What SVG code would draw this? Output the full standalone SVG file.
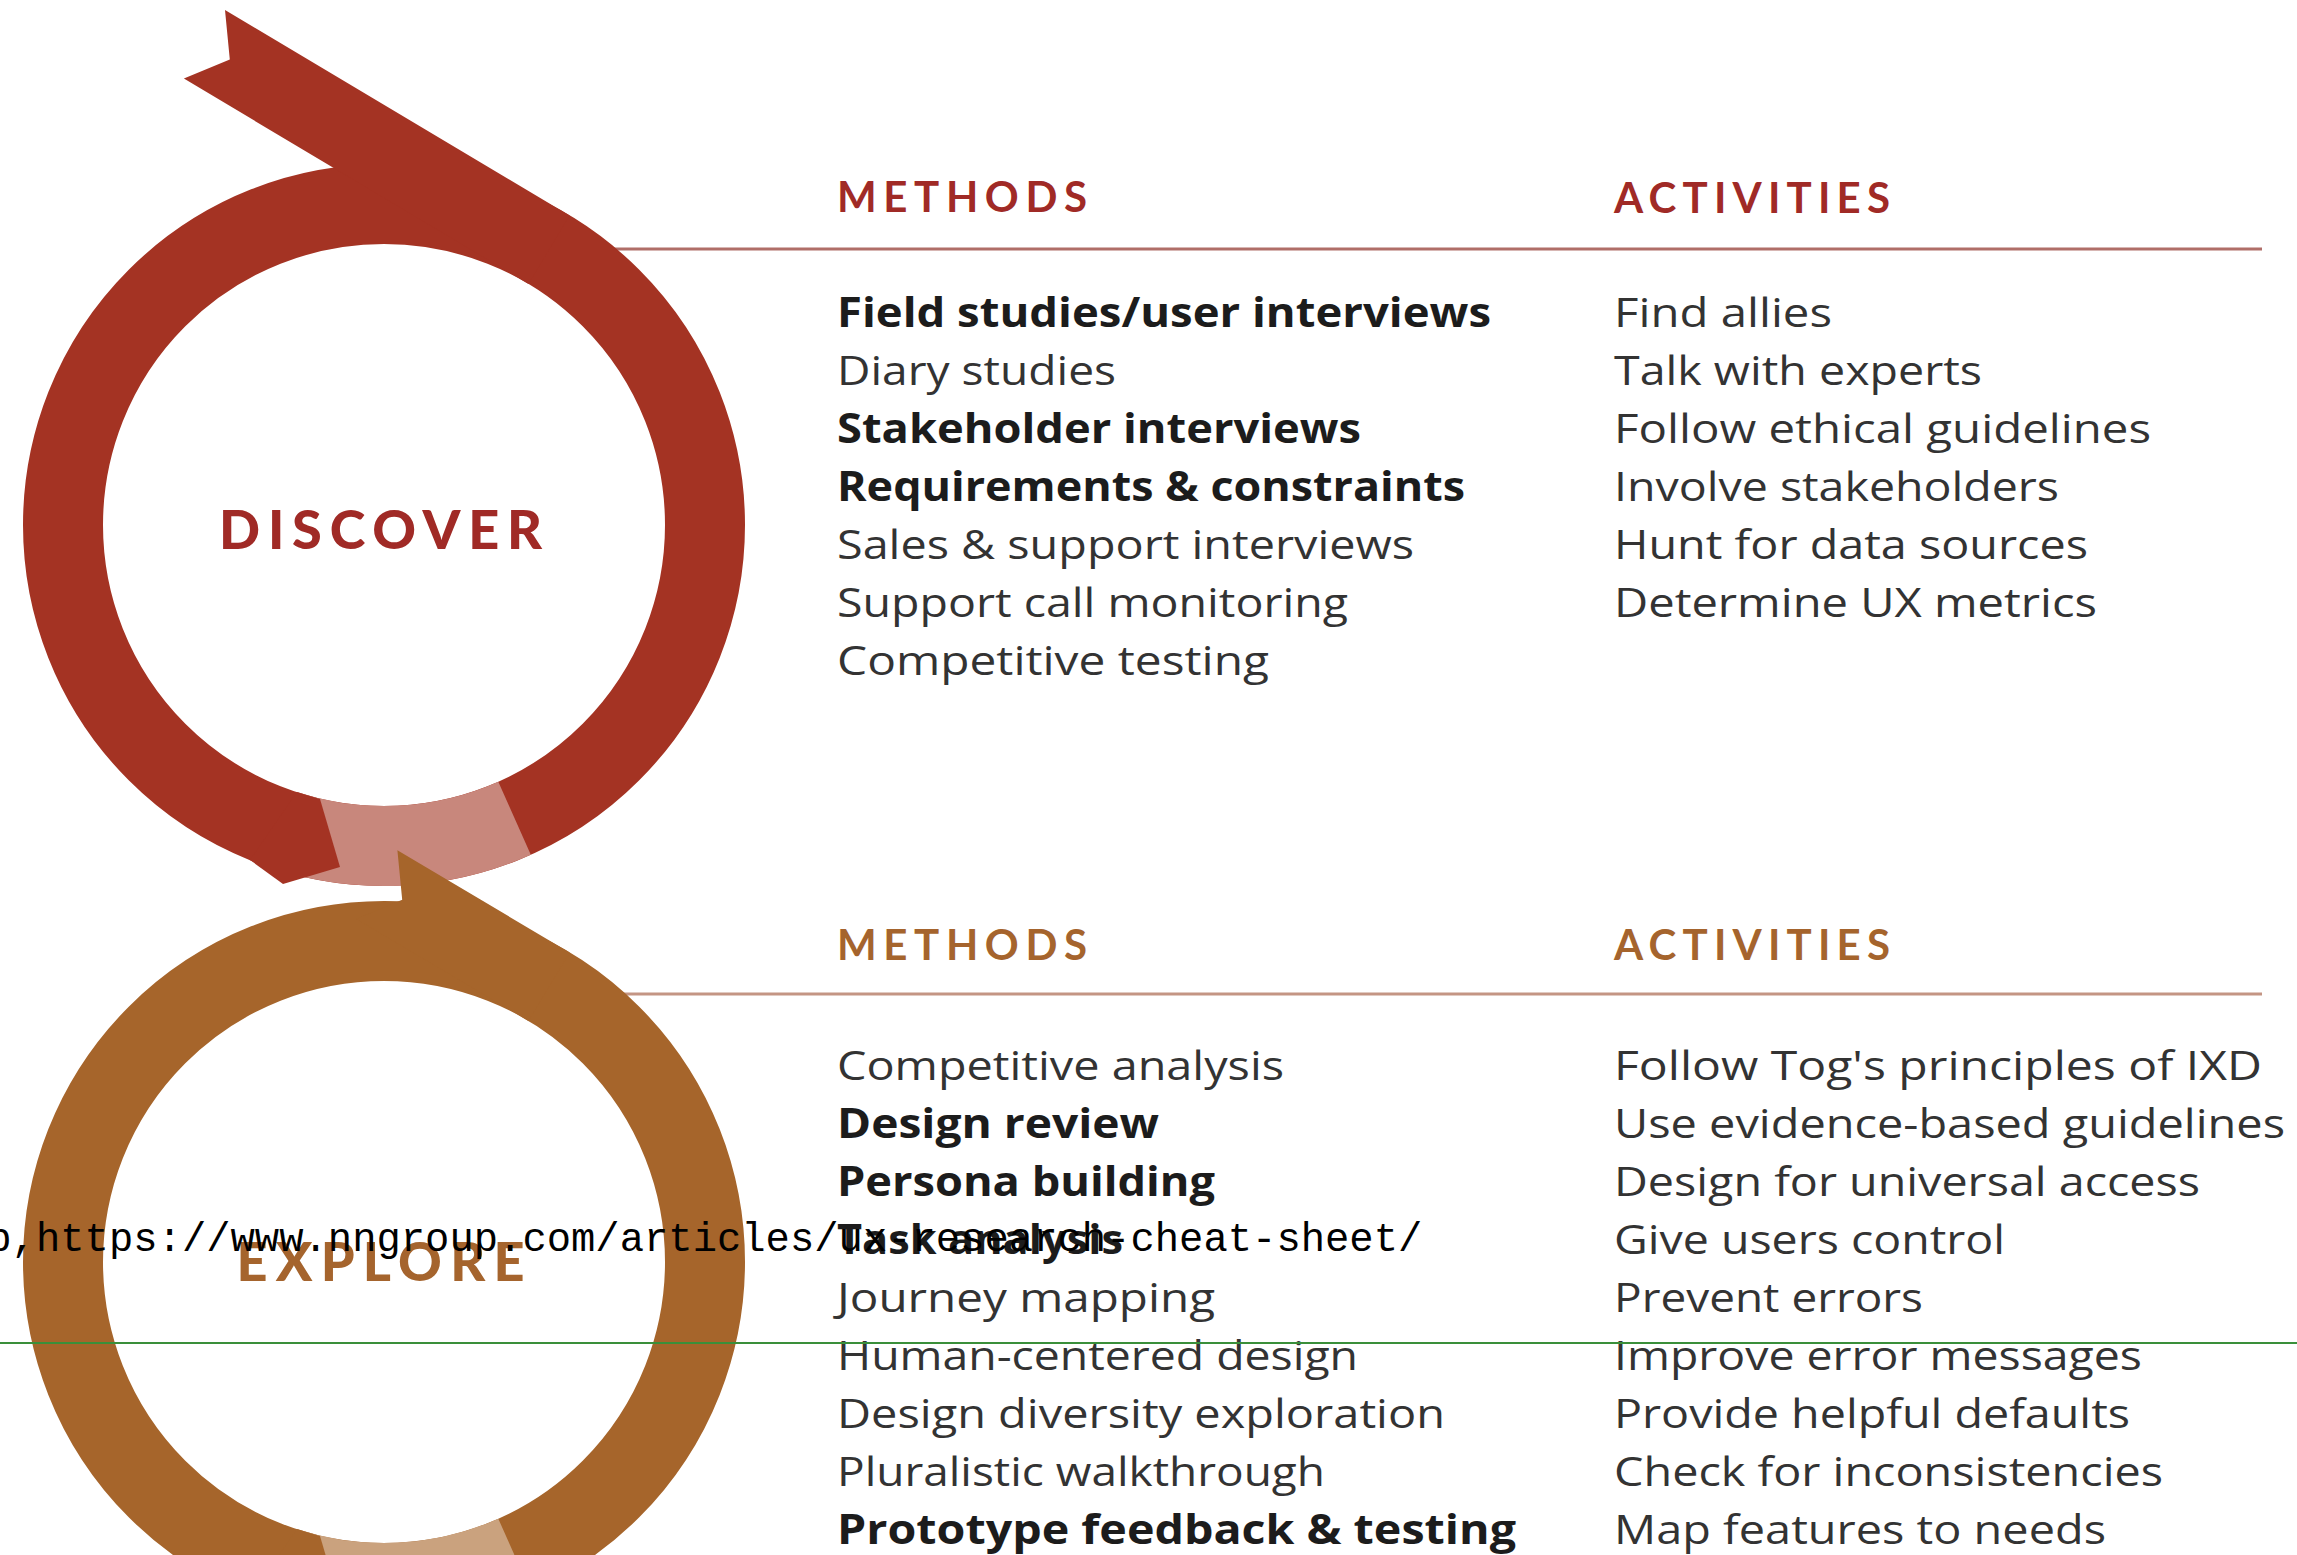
<svg xmlns="http://www.w3.org/2000/svg" width="2297" height="1555" viewBox="0 0 2297 1555">
  <style>
    .ring-d { fill: none; stroke: #a43323; stroke-width: 80; }
    .ring-e { fill: none; stroke: #a6652b; stroke-width: 80; }
    .fill-d { fill: #a43323; }
    .fill-e { fill: #a6652b; }
    .light-d { fill: #c8877c; }
    .light-e { fill: #caa27e; }
    .rule-d { stroke: #b06e68; stroke-width: 3; }
    .rule-e { stroke: #c49584; stroke-width: 3; }
    .hd { font-family: Lato, 'Open Sans', sans-serif; font-weight: 700; font-size: 42px; }
    .hd-d { fill: #a02a26; }
    .hd-e { fill: #a5642d; }
    .title { font-family: Lato, 'Open Sans', sans-serif; font-weight: 900; font-size: 54px; text-anchor: middle; }
    .it { font-family: 'Open Sans', Lato, sans-serif; font-size: 41px; fill: #333333; }
    .b { font-weight: 700; fill: #1c1c1c; }
    .url { font-family: 'Liberation Mono', 'DejaVu Sans Mono', monospace; font-size: 40.5px; fill: #000; }
  </style>

  <rect width="2297" height="1555" fill="#ffffff"/>

  <!-- header rules, drawn first so the rings sit over their left ends -->
  <g id="rules">
    <line class="rule-d" x1="600" y1="249" x2="2262" y2="249"/>
    <line class="rule-e" x1="600" y1="994" x2="2262" y2="994"/>
  </g>

  <!-- DISCOVER ribbon ring: annulus, light crossing section, cut end, notched tail -->
  <g id="discover">
    <circle class="ring-d" cx="384" cy="525" r="321"/>
    <path class="light-d" d="M 498.3 781.7 A 281 281 0 0 1 297.2 792.2 L 272.4 868.3 A 361 361 0 0 0 530.8 854.8 Z"/>
    <polygon class="fill-d" points="297,792 320,799 340,867 283,884 250,860"/>
    <polygon class="fill-d" points="225,10 569.6,215.4 528.5,284 183.9,78.6 229.8,59.5"/>
    <text class="title hd-d" x="382" y="549" textLength="326" letter-spacing="3">DISCOVER</text>
  </g>

  <!-- EXPLORE ribbon ring -->
  <g id="explore">
    <circle class="ring-e" cx="384" cy="1262" r="321"/>
    <path class="light-e" d="M 498.3 1518.7 A 281 281 0 0 1 297.2 1529.2 L 272.4 1605.3 A 361 361 0 0 0 530.8 1591.8 Z"/>
    <polygon class="fill-e" points="297,1529 320,1536 340,1604 283,1621 250,1597"/>
    <polygon class="fill-e" points="397.4,850.3 569.6,952.4 528.5,1021 356.3,919 402.2,899.8"/>
    <text class="title hd-e" x="382" y="1281" textLength="291" letter-spacing="3">EXPLORE</text>
  </g>

  <!-- Discover: methods -->
  <g id="discover-methods">
    <text class="hd hd-d" x="837" y="212" textLength="250">METHODS</text>
    <text class="it b" x="837" y="327" textLength="654" lengthAdjust="spacingAndGlyphs">Field studies/user interviews</text>
    <text class="it" x="837" y="385" textLength="279" lengthAdjust="spacingAndGlyphs">Diary studies</text>
    <text class="it b" x="837" y="443" textLength="524" lengthAdjust="spacingAndGlyphs">Stakeholder interviews</text>
    <text class="it b" x="837" y="501" textLength="628" lengthAdjust="spacingAndGlyphs">Requirements &amp; constraints</text>
    <text class="it" x="837" y="559" textLength="577" lengthAdjust="spacingAndGlyphs">Sales &amp; support interviews</text>
    <text class="it" x="837" y="617" textLength="511" lengthAdjust="spacingAndGlyphs">Support call monitoring</text>
    <text class="it" x="837" y="675" textLength="432" lengthAdjust="spacingAndGlyphs">Competitive testing</text>
  </g>

  <!-- Discover: activities -->
  <g id="discover-activities">
    <text class="hd hd-d" x="1614" y="213" textLength="276">ACTIVITIES</text>
    <text class="it" x="1614" y="327" textLength="218" lengthAdjust="spacingAndGlyphs">Find allies</text>
    <text class="it" x="1614" y="385" textLength="368" lengthAdjust="spacingAndGlyphs">Talk with experts</text>
    <text class="it" x="1614" y="443" textLength="537" lengthAdjust="spacingAndGlyphs">Follow ethical guidelines</text>
    <text class="it" x="1614" y="501" textLength="445" lengthAdjust="spacingAndGlyphs">Involve stakeholders</text>
    <text class="it" x="1614" y="559" textLength="474" lengthAdjust="spacingAndGlyphs">Hunt for data sources</text>
    <text class="it" x="1614" y="617" textLength="483" lengthAdjust="spacingAndGlyphs">Determine UX metrics</text>
  </g>

  <!-- Explore: methods -->
  <g id="explore-methods">
    <text class="hd hd-e" x="837" y="960" textLength="250">METHODS</text>
    <text class="it" x="837" y="1080" textLength="447" lengthAdjust="spacingAndGlyphs">Competitive analysis</text>
    <text class="it b" x="837" y="1138" textLength="322" lengthAdjust="spacingAndGlyphs">Design review</text>
    <text class="it b" x="837" y="1196" textLength="378" lengthAdjust="spacingAndGlyphs">Persona building</text>
    <text class="it b" x="837" y="1254" textLength="286" lengthAdjust="spacingAndGlyphs">Task analysis</text>
    <text class="it" x="837" y="1312" textLength="378" lengthAdjust="spacingAndGlyphs">Journey mapping</text>
    <text class="it" x="837" y="1370" textLength="521" lengthAdjust="spacingAndGlyphs">Human-centered design</text>
    <text class="it" x="837" y="1428" textLength="608" lengthAdjust="spacingAndGlyphs">Design diversity exploration</text>
    <text class="it" x="837" y="1486" textLength="488" lengthAdjust="spacingAndGlyphs">Pluralistic walkthrough</text>
    <text class="it b" x="837" y="1544" textLength="679" lengthAdjust="spacingAndGlyphs">Prototype feedback &amp; testing</text>
  </g>

  <!-- Explore: activities -->
  <g id="explore-activities">
    <text class="hd hd-e" x="1614" y="960" textLength="276">ACTIVITIES</text>
    <text class="it" x="1614" y="1080" textLength="648" lengthAdjust="spacingAndGlyphs">Follow Tog's principles of IXD</text>
    <text class="it" x="1614" y="1138" textLength="671" lengthAdjust="spacingAndGlyphs">Use evidence-based guidelines</text>
    <text class="it" x="1614" y="1196" textLength="586" lengthAdjust="spacingAndGlyphs">Design for universal access</text>
    <text class="it" x="1614" y="1254" textLength="391" lengthAdjust="spacingAndGlyphs">Give users control</text>
    <text class="it" x="1614" y="1312" textLength="309" lengthAdjust="spacingAndGlyphs">Prevent errors</text>
    <text class="it" x="1614" y="1370" textLength="528" lengthAdjust="spacingAndGlyphs">Improve error messages</text>
    <text class="it" x="1614" y="1428" textLength="516" lengthAdjust="spacingAndGlyphs">Provide helpful defaults</text>
    <text class="it" x="1614" y="1486" textLength="549" lengthAdjust="spacingAndGlyphs">Check for inconsistencies</text>
    <text class="it" x="1614" y="1544" textLength="492" lengthAdjust="spacingAndGlyphs">Map features to needs</text>
  </g>

  <!-- source link and guide line laid over the sheet -->
  <g id="overlay">
    <text class="url" x="-12.7" y="1251" textLength="1435">b,https://www.nngroup.com/articles/ux-research-cheat-sheet/</text>
    <line x1="0" y1="1343" x2="2297" y2="1343" stroke="#3a8f3a" stroke-width="2"/>
  </g>
</svg>
